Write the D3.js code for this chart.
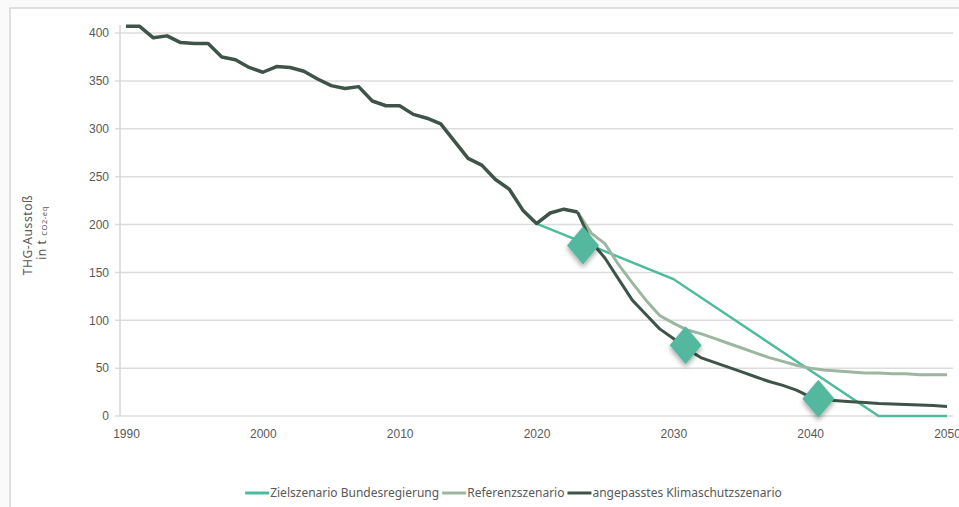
<!DOCTYPE html>
<html>
<head>
<meta charset="utf-8">
<script src="https://cdn.jsdelivr.net/npm/d3@7"></script>
<style>
  body { margin: 0; background: #fafafa; }
  svg { display: block; font-family: "Noto Sans", "Open Sans", sans-serif; }
</style>
</head>
<body>
<div id="container"></div>
<script>
var W = 959, H = 507,
    margin = {top: 33, right: 12, bottom: 91, left: 126};

// data (Mt CO2-eq)
var histYears = [1990, 1991, 1992, 1993, 1994, 1995, 1996, 1997, 1998, 1999,
                 2000, 2001, 2002, 2003, 2004, 2005, 2006, 2007, 2008, 2009,
                 2010, 2011, 2012, 2013, 2014, 2015, 2016, 2017, 2018, 2019,
                 2020, 2021, 2022, 2023];
var histValues = [407, 407, 395, 397, 390, 389, 389, 375, 372, 364,
                  359, 365, 364, 360, 352, 345, 342, 344, 329, 324,
                  324, 315, 311, 305, 287, 269, 262, 247, 237, 215,
                  201, 212, 216, 213];

var zielYears = [2020, 2030, 2045, 2050];
var zielValues = [201, 143, 0, 0];

var refYears = [2023, 2024, 2025, 2026, 2027, 2028, 2029, 2030, 2031, 2032, 2033, 2034,
                2035, 2036, 2037, 2038, 2039, 2040, 2041, 2042, 2043, 2044, 2045,
                2046, 2047, 2048, 2049, 2050];
var refValues = [213, 191, 180, 158, 139, 121, 105, 97, 90, 86, 81, 76,
                 71, 66, 61, 57, 53, 50, 48, 47, 46, 45, 45,
                 44, 44, 43, 43, 43];

var klimaYears = [2023, 2024, 2025, 2026, 2027, 2028, 2029, 2030, 2031, 2032, 2033, 2034,
                  2035, 2036, 2037, 2038, 2039, 2040, 2041, 2042, 2043, 2044, 2045,
                  2046, 2047, 2048, 2049, 2050];
var klimaValues = [213, 182, 165, 143, 121, 106, 91, 81, 70, 61, 56, 51,
                   46, 41, 36, 32, 27, 20, 17, 16, 15, 14, 13,
                   12.5, 12, 11.5, 11, 10];

var markerYears = [2023.4, 2030.9, 2040.6];
var markerValues = [178, 74, 18];

var yTicks = [0, 50, 100, 150, 200, 250, 300, 350, 400];
var xTicks = [1990, 2000, 2010, 2020, 2030, 2040, 2050];

var seriesNames = ['Zielszenario Bundesregierung', 'Referenzszenario', 'angepasstes Klimaschutzszenario'];
var seriesColors = ['#4fbb9d', '#9cb6a1', '#3e5448'];

function pairs(xs, ys) { return xs.map((x, i) => ({x: x, y: ys[i]})); }

var svg = d3.select('#container').append('svg')
    .attr('width', W)
    .attr('height', H);

/* frame */
svg.append('rect')
    .attr('x', 10).attr('y', 8)
    .attr('width', W).attr('height', H)
    .attr('fill', '#fff')
    .attr('stroke', '#d6d6d6')
    .attr('stroke-width', 1.5);

var defs = svg.append('defs');
var f = defs.append('filter').attr('id', 'shadow')
    .attr('x', '-50%').attr('y', '-50%').attr('width', '200%').attr('height', '200%');
f.append('feDropShadow')
    .attr('dx', 0).attr('dy', 3)
    .attr('stdDeviation', 2.5)
    .attr('flood-color', '#000')
    .attr('flood-opacity', 0.35);

var xScale = d3.scaleLinear()
    .domain([1990, 2050])
    .range([margin.left, W - margin.right]);

var yScale = d3.scaleLinear()
    .domain([0, 400])
    .range([H - margin.bottom, margin.top]);

/* gridlines */
svg.append('g')
  .selectAll('line').data(yTicks).enter().append('line')
    .attr('x1', 115)
    .attr('x2', 953)
    .attr('y1', d => yScale(d))
    .attr('y2', d => yScale(d))
    .attr('stroke', '#dcdcdc')
    .attr('stroke-width', 1.5);

// y axis line
svg.append('line')
    .attr('x1', 120).attr('x2', 120)
    .attr('y1', 25).attr('y2', yScale(0))
    .attr('stroke', '#d6d6d6')
    .attr('stroke-width', 1.5);

/* y axis labels */
var yAxis = d3.axisLeft(yScale).tickValues(yTicks).tickSize(0).tickPadding(0);
svg.append('g')
    .attr('transform', 'translate(109,0)')
    .call(yAxis)
    .call(g => g.select('.domain').remove())
    .selectAll('text')
        .attr('fill', '#595959')
        .style('font-size', '12px');

/* x axis labels */
var xAxis = d3.axisBottom(xScale).tickValues(xTicks).tickFormat(d3.format('d')).tickSize(0).tickPadding(0);
svg.append('g')
    .attr('transform', 'translate(0,' + (yScale(0) + 13) + ')')
    .call(xAxis)
    .call(g => g.select('.domain').remove())
    .selectAll('text')
        .attr('fill', '#595959')
        .style('font-size', '12px');

/* lines */
var line = d3.line()
    .x(d => xScale(d.x))
    .y(d => yScale(d.y));

svg.append('path')
    .datum(pairs(zielYears, zielValues))
    .attr('d', line)
    .attr('fill', 'none')
    .attr('stroke', seriesColors[0])
    .attr('stroke-width', 2.5);

svg.append('path')
    .datum(pairs(refYears, refValues))
    .attr('d', line)
    .attr('fill', 'none')
    .attr('stroke', seriesColors[1])
    .attr('stroke-width', 3)
    .attr('stroke-linejoin', 'round');

svg.append('path')
    .datum(pairs(klimaYears, klimaValues))
    .attr('d', line)
    .attr('fill', 'none')
    .attr('stroke', seriesColors[2])
    .attr('stroke-width', 3)
    .attr('stroke-linejoin', 'round');

svg.append('path')
    .datum(pairs(histYears, histValues))
    .attr('d', line)
    .attr('fill', 'none')
    .attr('stroke', seriesColors[2])
    .attr('stroke-width', 3.5)
    .attr('stroke-linejoin', 'round');

/* diamonds */
svg.append('g')
  .selectAll('path').data(pairs(markerYears, markerValues)).enter().append('path')
    .attr('d', 'M0,-19 L16,0 L0,19 L-16,0 Z')
    .attr('transform', d => 'translate(' + xScale(d.x) + ',' + yScale(d.y) + ')')
    .attr('fill', '#52b89e')
    .attr('filter', 'url(#shadow)');

/* y title */
var yt = svg.append('text')
    .attr('transform', 'translate(32,235) rotate(-90)')
    .attr('text-anchor', 'middle')
    .attr('fill', '#595959')
    .style('letter-spacing', '0.6px')
    .style('font-size', '12px');
yt.append('tspan').attr('x', 0).attr('dy', 0).text('THG-Ausstoß');
var t2 = svg.append('text')
    .attr('transform', 'translate(46,233) rotate(-90)')
    .attr('text-anchor', 'middle')
    .attr('fill', '#595959')
    .style('letter-spacing', '0.6px')
    .style('font-size', '12px');
t2.append('tspan').text('in t ');
t2.append('tspan').style('font-size', '7.5px').attr('dy', 1).text('CO2-eq');

/* legend */
var legend = svg.append('g').attr('transform', 'translate(0,493)');
var lx = 0;
var items = legend.selectAll('g').data(seriesNames).enter().append('g');
items.append('line')
    .attr('x1', 0).attr('x2', 24)
    .attr('y1', 0).attr('y2', 0)
    .attr('stroke', (d, i) => seriesColors[i])
    .attr('stroke-width', 3);
items.append('text')
    .attr('x', 25)
    .attr('y', 4)
    .attr('fill', '#595959')
    .style('font-size', '12px')
    .text(d => d);
items.each(function() {
    d3.select(this).attr('transform', 'translate(' + lx + ',0)');
    lx += 25 + d3.select(this).select('text').node().getComputedTextLength() + 3;
});
legend.attr('transform', 'translate(' + (515 - lx / 2) + ',493)');
</script>
</body>
</html>
